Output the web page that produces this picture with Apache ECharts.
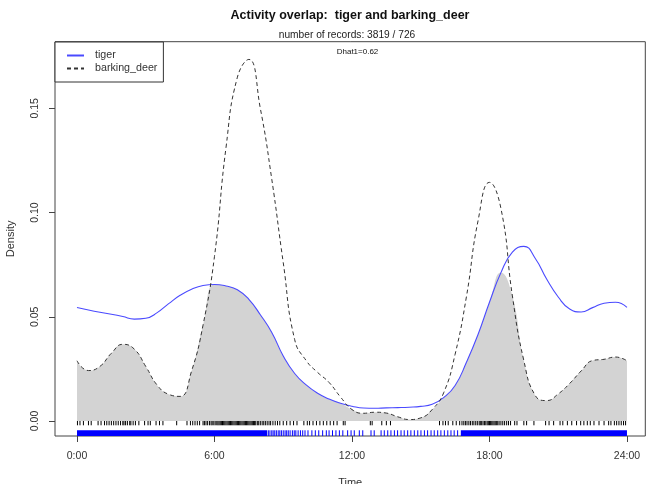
<!DOCTYPE html>
<html><head><meta charset="utf-8">
<script src="https://cdn.jsdelivr.net/npm/echarts@6/dist/echarts.min.js"></script>
<style>html,body{margin:0;padding:0;background:#fff}#c{width:651px;height:484px}</style>
</head><body><div id="c"></div>
<script>
// ---- data ----
const hours = [0,0.5,1,1.5,2,2.5,3,3.5,4,4.5,5,5.5,6,6.5,7,7.5,8,8.5,9,9.5,10,10.5,11,11.5,12,
  12.5,13,13.5,14,14.5,15,15.5,16,16.5,17,17.5,18,18.5,19,19.5,20,20.5,21,21.5,22,22.5,23,23.5,24];
const tigerDensity = [0.0545,0.0533,0.0522,0.0512,0.0501,0.0489,0.0493,0.0520,0.0563,0.0603,0.0632,0.0650,
  0.0655,0.0648,0.0630,0.0584,0.0510,0.0425,0.0312,0.0228,0.0173,0.0133,0.0105,0.0085,0.0071,
  0.0062,0.0061,0.0063,0.0064,0.0066,0.0070,0.0080,0.0112,0.0170,0.0283,0.0415,0.0570,0.0712,
  0.0810,0.0838,0.0780,0.0680,0.0595,0.0537,0.0523,0.0544,0.0565,0.0570,0.0545];
const deerDensity = [0.0289,0.0242,0.0262,0.0325,0.0368,0.0345,0.0262,0.0172,0.0128,0.0118,0.0240,0.0460,
  0.0790,0.1310,0.1650,0.1735,0.1500,0.1160,0.0760,0.0390,0.0290,0.0233,0.0185,0.0115,0.0055,
  0.0037,0.0042,0.0038,0.0020,0.0007,0.0015,0.0055,0.0135,0.0320,0.0600,0.0960,0.1145,0.1020,
  0.0600,0.0290,0.0122,0.0098,0.0130,0.0180,0.0240,0.0290,0.0296,0.0307,0.0289];
const xTickValues = [0,6,12,18,24];
const xTickLabels = ['0:00','6:00','12:00','18:00','24:00'];
const yTickValues = [0,0.05,0.1,0.15];
const yTickLabels = ['0.00','0.05','0.10','0.15'];
const deerRug = [0.02,0.13,0.28,0.5,0.62,0.92,1.05,1.2,1.3,1.4,1.5,1.6,1.7,1.8,1.9,2.0,2.05,2.12,2.2,2.3,2.35,2.45,2.55,2.7,
  2.95,3.1,3.2,3.45,3.6,3.75,4.35,4.8,4.95,5.05,5.15,5.25,5.35,
  5.5,5.56,5.63,5.7,5.78,5.85,5.9,5.97,6.03,6.1,6.15,6.2,6.25,6.3,6.35,6.4,6.45,6.5,6.55,6.6,6.65,6.7,6.75,6.8,6.85,6.9,6.95,
  7.0,7.05,7.1,7.15,7.2,7.25,7.3,7.35,7.4,7.45,7.5,7.55,7.6,7.65,7.7,7.75,7.8,7.87,7.93,8.0,8.08,8.15,8.22,8.3,8.38,8.45,
  8.55,8.65,8.75,8.85,9.0,9.15,9.3,9.45,9.6,9.9,10.05,10.15,10.3,10.45,10.6,10.75,10.9,11.05,11.2,11.35,11.62,11.7,
  12.8,12.88,13.3,13.5,13.68,15.82,15.97,16.08,16.2,16.4,16.55,16.7,
  16.8,16.88,16.95,17.02,17.1,17.17,17.25,17.32,17.4,17.47,17.55,17.6,17.66,
  17.72,17.78,17.84,17.9,17.95,18.0,18.05,18.1,18.15,18.2,18.25,18.3,18.36,18.42,18.5,18.58,18.66,18.75,18.83,18.92,
  19.1,19.2,19.5,19.62,19.94,20.45,20.6,20.8,21.08,21.2,21.4,21.59,21.8,21.98,22.12,22.27,22.4,22.56,22.78,23.0,
  23.2,23.3,23.45,23.55,23.65,23.75,23.85,23.94];
const tigerRugSpans = [[0,8.3],[16.75,24]];
const tigerRugTicks = [8.35,8.42,8.5,8.56,8.63,8.7,8.78,8.85,8.92,9.0,9.08,9.15,9.22,9.3,9.4,9.48,9.55,9.65,9.75,9.85,9.95,
  10.08,10.25,10.4,10.55,10.72,10.88,11.0,11.15,11.3,11.45,11.6,11.81,11.96,12.1,12.32,12.47,12.83,12.97,13.27,13.41,
  13.56,13.7,13.85,13.99,14.14,14.28,14.43,14.57,14.72,14.87,15.01,15.16,15.3,15.45,15.59,15.74,15.88,16.03,16.18,
  16.32,16.46,16.61];

// ---- chart ----
const FONT = '"Liberation Sans", Arial, sans-serif';
const chart = echarts.init(document.getElementById('c'), null, {renderer:'canvas', width:651, height:484});
const overlap = hours.map((h,i)=>[h, Math.min(tigerDensity[i], deerDensity[i])]);
const tigerData = hours.map((h,i)=>[h, tigerDensity[i]]);
const deerData = hours.map((h,i)=>[h, deerDensity[i]]);

function rugTick(y1off, y2off, color){
  return function(params, api){
    const p = api.coord([api.value(0), 0]);
    return {type:'line', shape:{x1:p[0], y1:p[1]+y1off, x2:p[0], y2:p[1]+y2off},
      style:{stroke:color, lineWidth:1}};
  };
}

const option = {
  animation:false,
  backgroundColor:'#fff',
  textStyle:{fontFamily:FONT},
  grid:{left:55, right:5.7, top:41.7, bottom:48, show:true, borderColor:'#444', borderWidth:1,
        backgroundColor:'transparent', containLabel:false, outerBoundsMode:'none'},
  legend:{
    orient:'vertical', left:55, top:42, itemWidth:17, itemHeight:8, itemGap:2,
    padding:[8,6,8,11], borderColor:'#333', borderWidth:1, backgroundColor:'#fff',
    itemStyle:{opacity:0},
    textStyle:{fontSize:10.7, color:'#333', fontFamily:FONT, padding:[0,0,0,6]},
    data:['tiger','barking_deer'], selectedMode:false
  },
  xAxis:{type:'value', min:-0.96, max:24.8,
    axisLine:{show:false, onZero:false}, splitLine:{show:false},
    axisTick:{show:true, customValues:xTickValues, length:6, lineStyle:{color:'#444'}},
    axisLabel:{customValues:xTickValues, formatter:v=>xTickLabels[xTickValues.indexOf(v)],
      fontSize:10.5, color:'#333', margin:15, fontFamily:FONT},
    name:'Time', nameLocation:'middle', nameGap:41, nameTextStyle:{fontSize:11, color:'#333', fontFamily:FONT}},
  yAxis:{type:'value', min:-0.0072, max:0.182,
    axisLine:{show:false, onZero:false}, splitLine:{show:false},
    axisTick:{show:true, customValues:yTickValues, length:6, lineStyle:{color:'#444'}},
    axisLabel:{customValues:yTickValues, formatter:v=>yTickLabels[yTickValues.indexOf(v)],
      rotate:90, fontSize:10.5, color:'#333', margin:14, fontFamily:FONT},
    name:'Density', nameLocation:'middle', nameGap:39, nameRotate:90,
    nameTextStyle:{fontSize:11, color:'#333', fontFamily:FONT}},
  graphic:[
    {type:'text', x:350, y:16, style:{text:'Activity overlap:  tiger and barking_deer', fill:'#111',
      font:'bold 12.5px '+FONT, textAlign:'center', textVerticalAlign:'middle'}},
    {type:'text', x:347, y:35, style:{text:'number of records: 3819 / 726', fill:'#222',
      font:'10.2px '+FONT, textAlign:'center', textVerticalAlign:'middle'}},
    {type:'text', x:357.5, y:52, style:{text:'Dhat1=0.62', fill:'#111',
      font:'8px '+FONT, textAlign:'center', textVerticalAlign:'middle'}}
  ],
  series:[
    {name:'overlap', type:'line', data:overlap, smooth:0.5, symbol:'none', silent:true,
     lineStyle:{width:0, color:'#d3d3d3'}, areaStyle:{color:'#d3d3d3', opacity:1, origin:0}, z:1},
    {name:'tiger', type:'line', data:tigerData, smooth:0.5, symbol:'none',
     lineStyle:{color:'#4a4aff', width:1.1}, itemStyle:{color:'#4a4aff'}, z:3},
    {name:'barking_deer', type:'line', data:deerData, smooth:0.5, symbol:'none',
     lineStyle:{color:'#333', width:1, type:[4,3]}, itemStyle:{color:'#333'}, z:3},
    {name:'deerRug', type:'custom', data:deerRug.map(t=>[t]), renderItem:rugTick(0,4.3,'#000'),
     encode:{x:0}, silent:true, z:4},
    {name:'tigerRugSpans', type:'custom', data:tigerRugSpans, encode:{x:[0,1]}, silent:true, z:4,
     renderItem:function(params, api){
       const a = api.coord([api.value(0), 0]), b = api.coord([api.value(1), 0]);
       return {type:'rect', shape:{x:a[0], y:a[1]+9.3, width:b[0]-a[0], height:5.7},
         style:{fill:'#0000ff'}};
     }},
    {name:'tigerRugTicks', type:'custom', data:tigerRugTicks.map(t=>[t]), renderItem:rugTick(9.3,15,'#0000ff'),
     encode:{x:0}, silent:true, z:4}
  ]
};
chart.setOption(option);
</script></body></html>
